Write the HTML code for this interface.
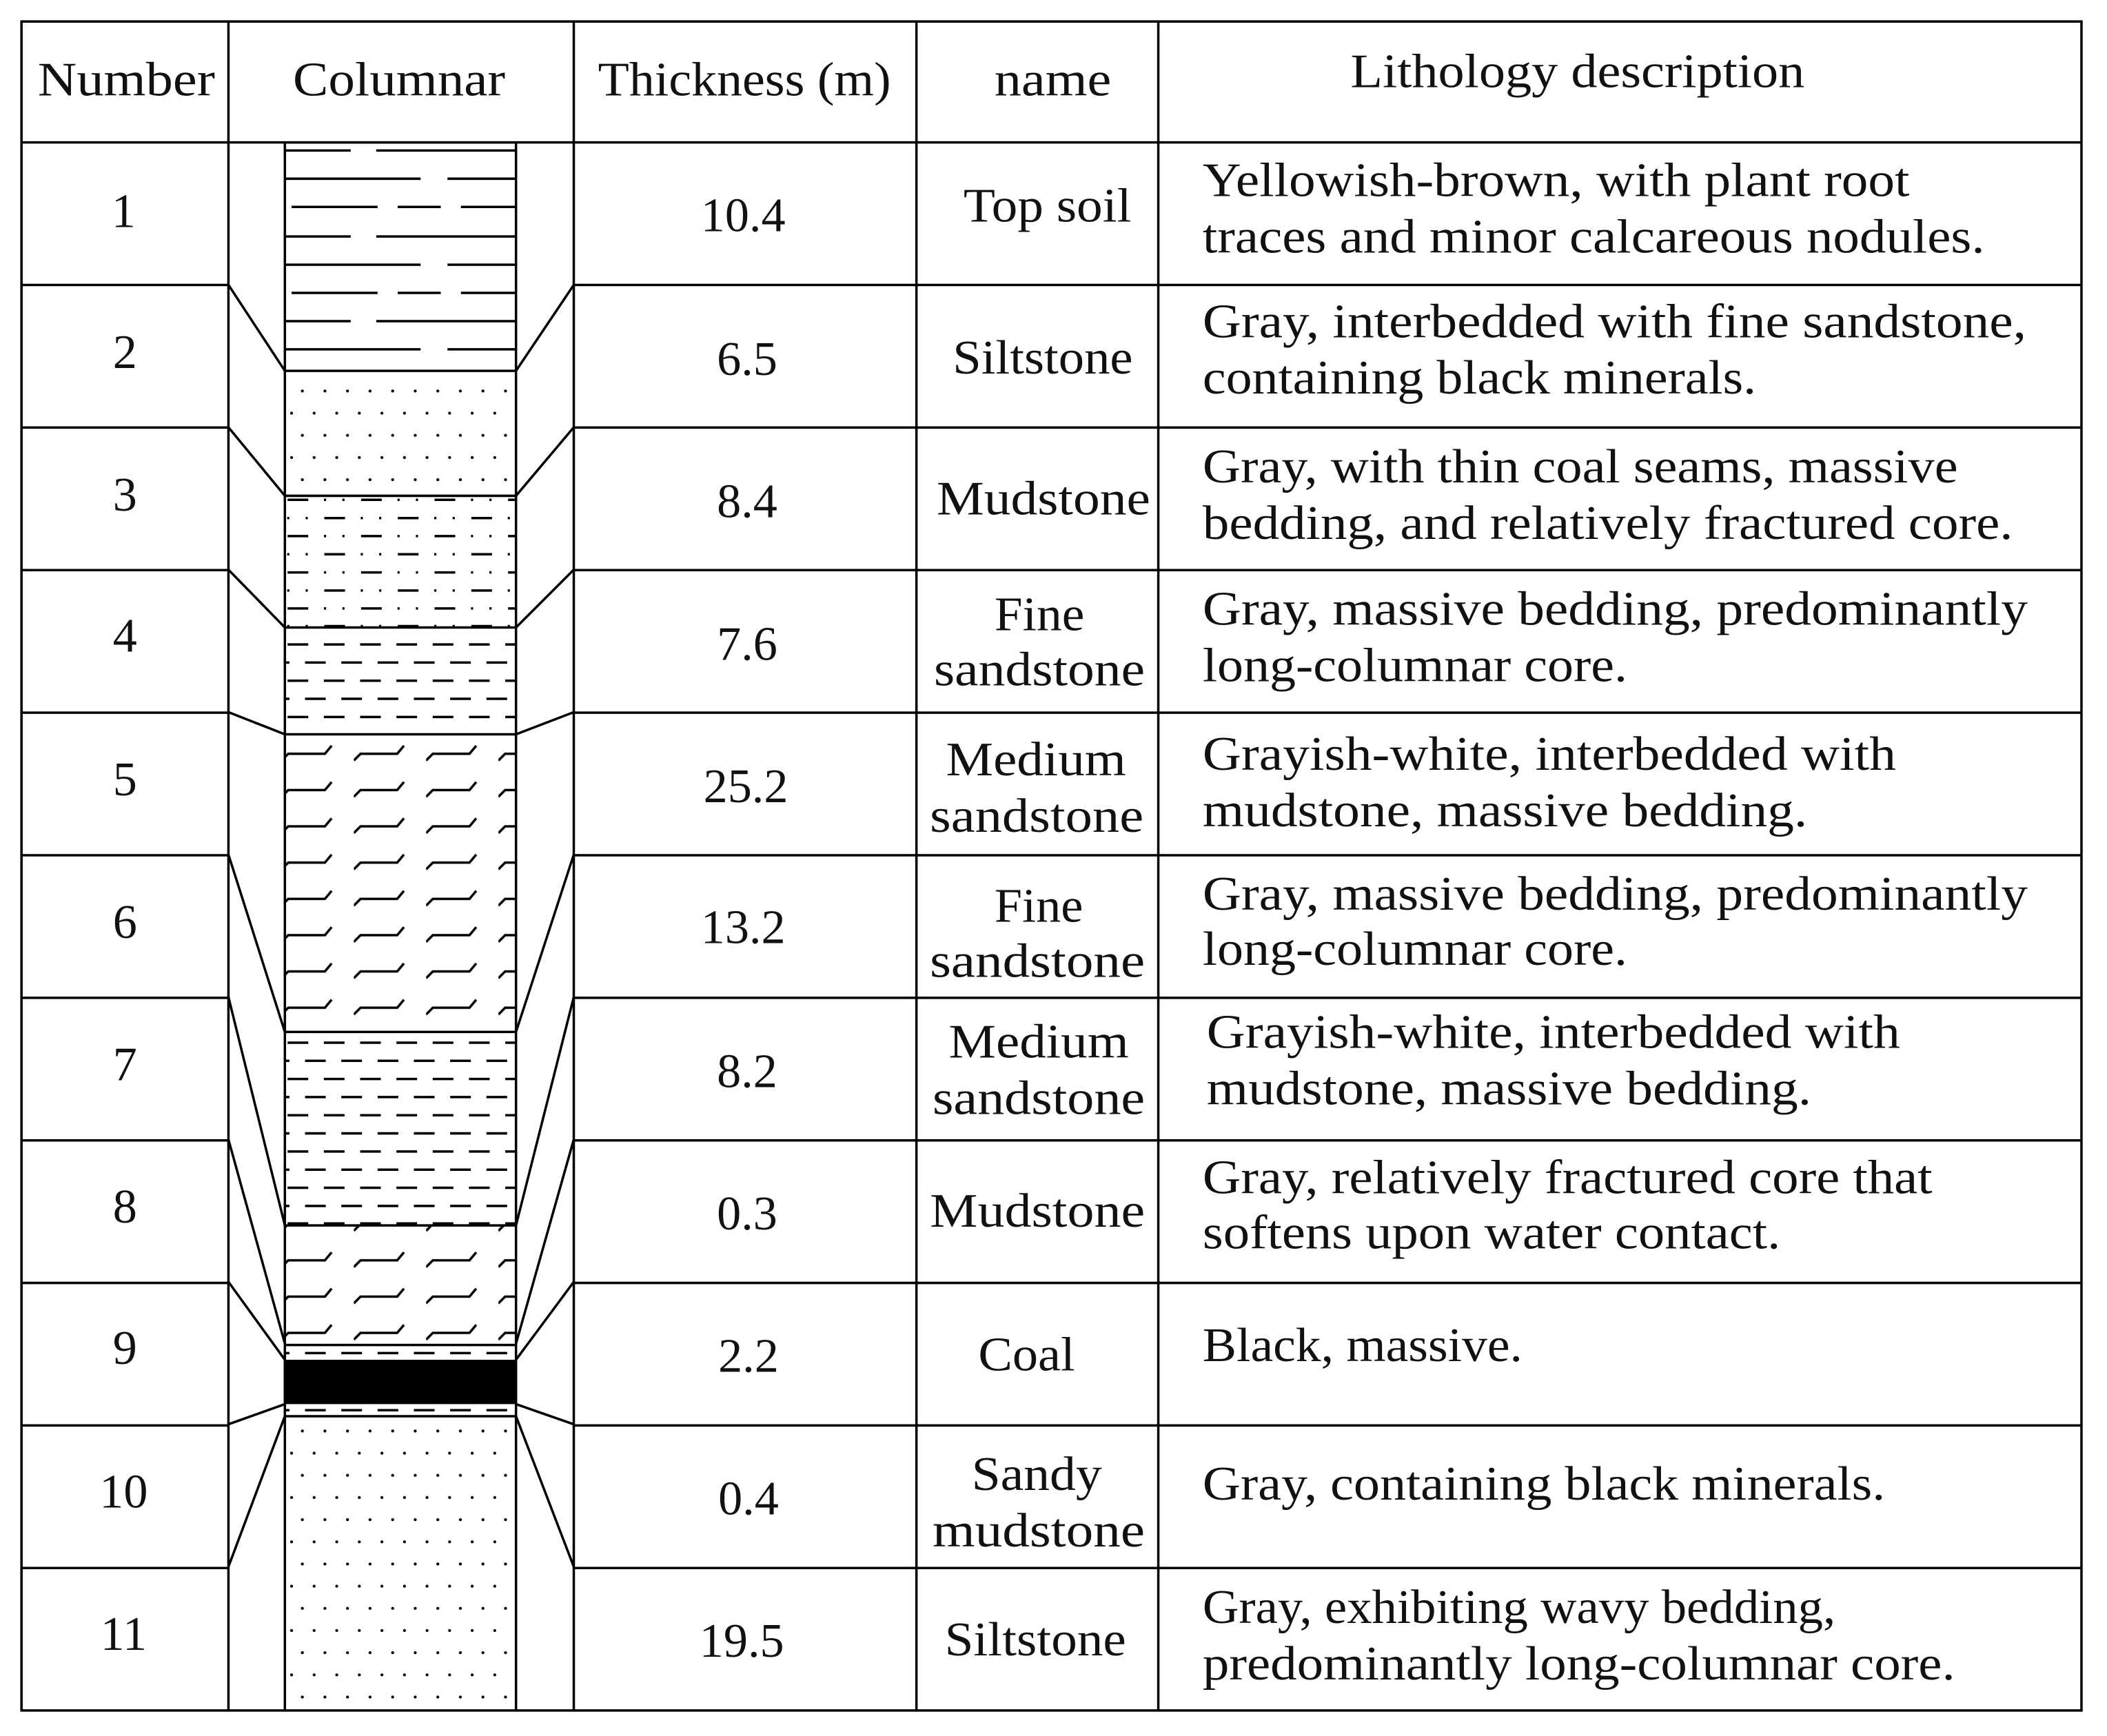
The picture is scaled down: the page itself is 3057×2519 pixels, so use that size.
<!DOCTYPE html>
<html><head><meta charset="utf-8"><style>
html,body{margin:0;padding:0;background:#fff;}
svg{display:block;}
text{font-family:"Liberation Serif",serif;font-size:36px;fill:#111;}
</style></head><body>
<svg width="3057" height="2519" viewBox="0 0 1568 1292" preserveAspectRatio="none" xmlns="http://www.w3.org/2000/svg">
<defs>
<pattern id="dots1" patternUnits="userSpaceOnUse" x="212.4" y="282.75" width="16.8" height="33">
<circle cx="12.6" cy="8.25" r="1.1" fill="#000"/><circle cx="4.6" cy="24.75" r="1.1" fill="#000"/></pattern>
<pattern id="dots2" patternUnits="userSpaceOnUse" x="212.4" y="1056.75" width="16.8" height="33">
<circle cx="12.6" cy="8.25" r="1.1" fill="#000"/><circle cx="4.6" cy="24.75" r="1.1" fill="#000"/></pattern>
<pattern id="wavy1" patternUnits="userSpaceOnUse" x="209.5" y="548" width="53.8" height="27">
<path d="M0 18 l5 -5 h27.3 l5 -6" fill="none" stroke="#000" stroke-width="1.8"/></pattern>
<pattern id="wavy2" patternUnits="userSpaceOnUse" x="209.5" y="925" width="53.8" height="27">
<path d="M0 18 l5 -5 h27.3 l5 -6" fill="none" stroke="#000" stroke-width="1.8"/></pattern>
<clipPath id="box"><rect x="212" y="106" width="172" height="1167"/></clipPath>
</defs>
<rect width="1568" height="1292" fill="#fff"/>

<!-- column patterns -->
<rect x="212" y="276" width="172" height="93" fill="url(#dots1)"/>
<rect x="212" y="1054" width="172" height="219" fill="url(#dots2)"/>
<rect x="212" y="546" width="172" height="222" fill="url(#wavy1)"/>
<rect x="212" y="912" width="172" height="89" fill="url(#wavy2)"/>
<rect x="212" y="1012" width="172" height="33" fill="#000"/>

<g clip-path="url(#box)" stroke="#000" stroke-width="1.8" fill="none">
<!-- layer 1 top soil -->
<path d="M212 112H261M280 112H384 M212 133H313M333 133H384 M217 154H281M296 154H328M343 154H384 M212 176H261M280 176H384 M212 197H313M333 197H384 M217 218H281M296 218H328M343 218H384 M212 239H261M280 239H384 M212 260H313M333 260H384"/>
<!-- mixed layer -->
<g stroke-dasharray="15.4 11.7 1.6 12.1 1.6 12.3">
<line x1="214" y1="372" x2="400" y2="372"/>
<line x1="186.65" y1="385.6" x2="400" y2="385.6"/>
<line x1="214" y1="399" x2="400" y2="399"/>
<line x1="186.65" y1="412.5" x2="400" y2="412.5"/>
<line x1="214" y1="426" x2="400" y2="426"/>
<line x1="186.65" y1="439.5" x2="400" y2="439.5"/>
<line x1="214" y1="452.8" x2="400" y2="452.8"/>
<line x1="186.65" y1="466" x2="400" y2="466"/>
</g>
<!-- dashed layers -->
<g stroke-dasharray="15.4 11.6">
<line x1="214" y1="479.6" x2="400" y2="479.6"/>
<line x1="200" y1="493.1" x2="400" y2="493.1"/>
<line x1="214" y1="506.6" x2="400" y2="506.6"/>
<line x1="200" y1="520.1" x2="400" y2="520.1"/>
<line x1="214" y1="533.6" x2="400" y2="533.6"/>
<line x1="214" y1="776" x2="400" y2="776"/>
<line x1="200" y1="789.5" x2="400" y2="789.5"/>
<line x1="214" y1="803" x2="400" y2="803"/>
<line x1="200" y1="816.5" x2="400" y2="816.5"/>
<line x1="214" y1="830" x2="400" y2="830"/>
<line x1="200" y1="843.5" x2="400" y2="843.5"/>
<line x1="214" y1="857" x2="400" y2="857"/>
<line x1="200" y1="870.5" x2="400" y2="870.5"/>
<line x1="214" y1="884" x2="400" y2="884"/>
<line x1="200" y1="897.5" x2="400" y2="897.5"/>
<line x1="214" y1="910.5" x2="400" y2="910.5"/>
<line x1="200" y1="1007" x2="400" y2="1007"/>
<line x1="200" y1="1049.5" x2="400" y2="1049.5"/>
</g>
<!-- layer boundaries -->
<path d="M212 106H384 M212 276H384 M212 369H384 M212 467H384 M212 546.5H384 M212 768H384 M212 912H384 M212 1001H384 M212 1054H384"/>
</g>
<!-- column box sides -->
<path d="M212 106V1273 M384 106V1273" stroke="#000" stroke-width="1.8" fill="none"/>

<!-- connectors -->
<g stroke="#000" stroke-width="1.8" fill="none">
<path d="M170 212L212 276 M170 318L212 369 M170 424L212 467 M170 530L212 546.5 M170 636L212 768 M170 742L212 912 M170 848L212 1000 M170 954L212 1012 M170 1060L212 1045 M170 1166L212 1054"/>
<path d="M427 212L384 276 M427 318L384 369 M427 424L384 467 M427 530L384 546.5 M427 636L384 768 M427 742L384 912 M427 848L384 1000 M427 954L384 1012 M427 1060L384 1045 M427 1166L384 1054"/>
</g>

<!-- table grid -->
<g stroke="#000" stroke-width="1.8" fill="none">
<rect x="16" y="16" width="1533" height="1257"/>
<path d="M170 16V1273 M427 16V1273 M682 16V1273 M862 16V1273 M16 106H1549"/>
<path d="M16 212.1H170M427 212.1H1549 M16 318.2H170M427 318.2H1549 M16 424.3H170M427 424.3H1549 M16 530.4H170M427 530.4H1549 M16 636.5H170M427 636.5H1549 M16 742.6H170M427 742.6H1549 M16 848.7H170M427 848.7H1549 M16 954.8H170M427 954.8H1549 M16 1060.9H170M427 1060.9H1549 M16 1167H170M427 1167H1549"/>
</g>

<!-- header -->
<text x="28" y="71" textLength="132" lengthAdjust="spacingAndGlyphs">Number</text>
<text x="218" y="71" textLength="158" lengthAdjust="spacingAndGlyphs">Columnar</text>
<text x="445" y="71" textLength="218" lengthAdjust="spacingAndGlyphs">Thickness (m)</text>
<text x="740" y="71" textLength="87" lengthAdjust="spacingAndGlyphs">name</text>
<text x="1005" y="65" textLength="338" lengthAdjust="spacingAndGlyphs">Lithology description</text>

<!-- numbers -->
<g text-anchor="middle">
<text x="92" y="169">1</text>
<text x="93" y="274">2</text>
<text x="93" y="380">3</text>
<text x="93" y="485">4</text>
<text x="93" y="592">5</text>
<text x="93" y="698">6</text>
<text x="93" y="804">7</text>
<text x="93" y="910">8</text>
<text x="93" y="1015">9</text>
<text x="92" y="1122">10</text>
<text x="92" y="1228">11</text>
<text x="553" y="172">10.4</text>
<text x="556" y="279">6.5</text>
<text x="556" y="385">8.4</text>
<text x="556" y="491">7.6</text>
<text x="555" y="597">25.2</text>
<text x="553" y="702">13.2</text>
<text x="556" y="809">8.2</text>
<text x="556" y="915">0.3</text>
<text x="557" y="1021">2.2</text>
<text x="557" y="1127">0.4</text>
<text x="552" y="1233">19.5</text>
</g>

<!-- names -->
<text x="717" y="165" textLength="125" lengthAdjust="spacingAndGlyphs">Top soil</text>
<text x="709" y="278" textLength="134" lengthAdjust="spacingAndGlyphs">Siltstone</text>
<text x="697" y="383" textLength="159" lengthAdjust="spacingAndGlyphs">Mudstone</text>
<text x="740" y="469" textLength="67" lengthAdjust="spacingAndGlyphs">Fine</text>
<text x="695" y="510" textLength="157" lengthAdjust="spacingAndGlyphs">sandstone</text>
<text x="704" y="577" textLength="134" lengthAdjust="spacingAndGlyphs">Medium</text>
<text x="692" y="619" textLength="159" lengthAdjust="spacingAndGlyphs">sandstone</text>
<text x="740" y="686" textLength="66" lengthAdjust="spacingAndGlyphs">Fine</text>
<text x="692" y="727" textLength="160" lengthAdjust="spacingAndGlyphs">sandstone</text>
<text x="706" y="787" textLength="134" lengthAdjust="spacingAndGlyphs">Medium</text>
<text x="694" y="829" textLength="158" lengthAdjust="spacingAndGlyphs">sandstone</text>
<text x="692" y="913" textLength="160" lengthAdjust="spacingAndGlyphs">Mudstone</text>
<text x="728" y="1020" textLength="72" lengthAdjust="spacingAndGlyphs">Coal</text>
<text x="723" y="1109" textLength="97" lengthAdjust="spacingAndGlyphs">Sandy</text>
<text x="694" y="1151" textLength="158" lengthAdjust="spacingAndGlyphs">mudstone</text>
<text x="703" y="1232" textLength="135" lengthAdjust="spacingAndGlyphs">Siltstone</text>

<!-- descriptions -->
<text x="895" y="146" textLength="526" lengthAdjust="spacingAndGlyphs">Yellowish-brown, with plant root</text>
<text x="895" y="188" textLength="582" lengthAdjust="spacingAndGlyphs">traces and minor calcareous nodules.</text>
<text x="895" y="251" textLength="613" lengthAdjust="spacingAndGlyphs">Gray, interbedded with fine sandstone,</text>
<text x="895" y="293" textLength="412" lengthAdjust="spacingAndGlyphs">containing black minerals.</text>
<text x="895" y="359" textLength="562" lengthAdjust="spacingAndGlyphs">Gray, with thin coal seams, massive</text>
<text x="895" y="401" textLength="603" lengthAdjust="spacingAndGlyphs">bedding, and relatively fractured core.</text>
<text x="895" y="465" textLength="614" lengthAdjust="spacingAndGlyphs">Gray, massive bedding, predominantly</text>
<text x="895" y="507" textLength="316" lengthAdjust="spacingAndGlyphs">long-columnar core.</text>
<text x="895" y="573" textLength="516" lengthAdjust="spacingAndGlyphs">Grayish-white, interbedded with</text>
<text x="895" y="615" textLength="450" lengthAdjust="spacingAndGlyphs">mudstone, massive bedding.</text>
<text x="895" y="677" textLength="614" lengthAdjust="spacingAndGlyphs">Gray, massive bedding, predominantly</text>
<text x="895" y="718" textLength="316" lengthAdjust="spacingAndGlyphs">long-columnar core.</text>
<text x="898" y="780" textLength="516" lengthAdjust="spacingAndGlyphs">Grayish-white, interbedded with</text>
<text x="898" y="822" textLength="450" lengthAdjust="spacingAndGlyphs">mudstone, massive bedding.</text>
<text x="895" y="888" textLength="543" lengthAdjust="spacingAndGlyphs">Gray, relatively fractured core that</text>
<text x="895" y="929" textLength="430" lengthAdjust="spacingAndGlyphs">softens upon water contact.</text>
<text x="895" y="1013" textLength="238" lengthAdjust="spacingAndGlyphs">Black, massive.</text>
<text x="895" y="1116" textLength="508" lengthAdjust="spacingAndGlyphs">Gray, containing black minerals.</text>
<text x="895" y="1208" textLength="471" lengthAdjust="spacingAndGlyphs">Gray, exhibiting wavy bedding,</text>
<text x="895" y="1250" textLength="560" lengthAdjust="spacingAndGlyphs">predominantly long-columnar core.</text>
</svg>
</body></html>
